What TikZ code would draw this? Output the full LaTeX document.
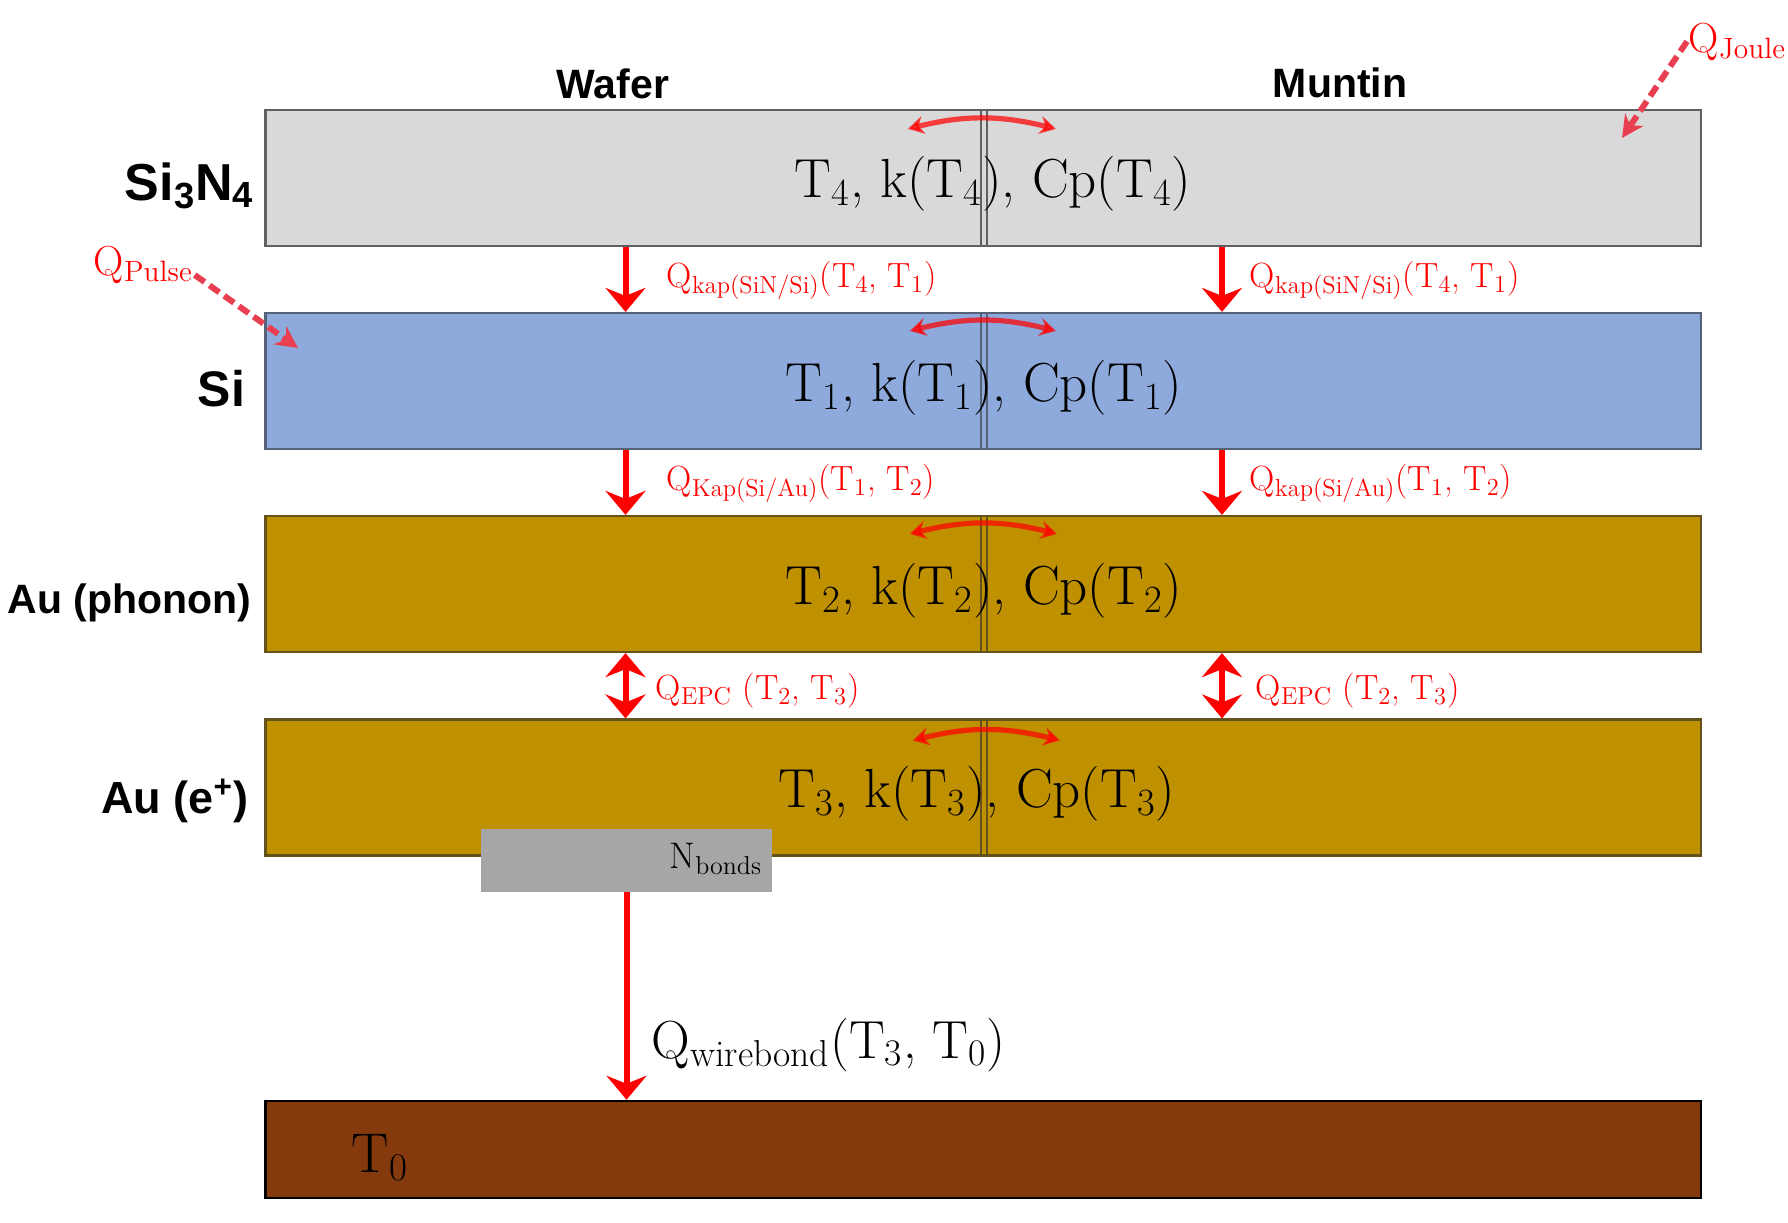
\documentclass[tikz,border=0pt]{standalone}
\usepackage{fontspec}
\setsansfont{Liberation Sans}
\usepackage{tikz}
\usetikzlibrary{arrows.meta}

\definecolor{sinfill}{RGB}{217,217,217}
\definecolor{sinrim}{RGB}{96,96,96}
\definecolor{sifill}{RGB}{142,169,219}
\definecolor{sirim}{RGB}{86,98,120}
\definecolor{aufill}{RGB}{191,144,0}
\definecolor{aurim}{RGB}{100,82,28}
\definecolor{basefill}{RGB}{132,58,12}
\definecolor{bondfill}{RGB}{166,166,166}
\definecolor{pumpred}{RGB}{232,64,80}

\newcommand{\layerstate}[1]{T\textsubscript{#1}, k(T\textsubscript{#1}), Cp(T\textsubscript{#1})}

\tikzset{
  slab/.style={inner sep=0pt, minimum width=360pt, minimum height=68pt, line width=1.1pt},
  flux/.style={red, line width=3pt, -{Stealth[length=12pt,width=20pt,inset=4pt]}},
  fluxboth/.style={flux, {Stealth[length=12pt,width=20pt,inset=4pt]}-{Stealth[length=12pt,width=20pt,inset=4pt]}},
  exch/.style={red, opacity=0.72, line width=2.6pt, {Stealth[length=8pt,width=9pt]}-{Stealth[length=8pt,width=9pt]}},
  inject/.style={pumpred, line width=3pt, dash pattern=on 6pt off 3pt, -{Stealth[length=11pt,width=11pt]}},
  colhead/.style={font=\sffamily\bfseries\fontsize{20.5}{24}\selectfont, anchor=base, inner sep=0.75pt},
  layername/.style={font=\sffamily\bfseries\fontsize{#1}{#1}\selectfont, anchor=base east, inner sep=0.75pt},
  statetext/.style={font=\fontsize{27.5}{32}\selectfont, anchor=base west, inner sep=0.75pt},
  heatlbl/.style={font=\fontsize{17.5}{20}\selectfont, text=red, anchor=base west, inner sep=0.75pt}
}

\begin{document}
\begin{tikzpicture}[x=0.5pt,y=0.5pt,yscale=-1,xscale=1]
\useasboundingbox (0,0) rectangle (1788,1222);

%Shape: Rectangle (Si3N4)
\draw (625.5,178) node (sinw) [slab, draw=sinrim, fill=sinfill] {};
\draw (1341,178) node (sinm) [slab, draw=sinrim, fill=sinfill] {};
\draw [sinrim, line width=1.1pt] (sinw.north east) -- (sinw.south east);
%Shape: Rectangle (Si)
\draw (625.5,381) node (siw) [slab, draw=sirim, fill=sifill] {};
\draw (1341,381) node (sim) [slab, draw=sirim, fill=sifill] {};
\draw [sirim, line width=1.1pt] (siw.north east) -- (siw.south east);
%Shape: Rectangle (Au phonon)
\draw (625.5,584) node (aupw) [slab, draw=aurim, fill=aufill] {};
\draw (1341,584) node (aupm) [slab, draw=aurim, fill=aufill] {};
\draw [aurim, line width=1.1pt] (aupw.north east) -- (aupw.south east);
%Shape: Rectangle (Au electron)
\draw (625.5,787.5) node (auew) [slab, draw=aurim, fill=aufill] {};
\draw (1341,787.5) node (auem) [slab, draw=aurim, fill=aufill] {};
\draw [aurim, line width=1.1pt] (auew.north east) -- (auew.south east);
%Shape: Rectangle (bath)
\draw (983.25,1149.5) node (base) [inner sep=0pt, minimum width=717.75pt, minimum height=48.5pt, draw=black, line width=1.25pt, fill=basefill] {};
%Shape: Rectangle (bonds)
\draw (626.5,860) node (bond) [inner sep=0pt, minimum width=145.5pt, minimum height=31.5pt, fill=bondfill] {};

\coordinate (rcol) at (1222,0);
\coordinate (pulsein) at (298,348);
\coordinate (joulein) at (1622,138);

%Straight Lines
\draw [flux] (sinw) -- (siw);
\draw [flux] (sinm.south -| rcol) -- (sim.north -| rcol);
\draw [flux] (siw) -- (aupw);
\draw [flux] (sim.south -| rcol) -- (aupm.north -| rcol);
\draw [fluxboth] (aupw) -- (auew);
\draw [fluxboth] (aupm.south -| rcol) -- (auem.north -| rcol);
\draw [flux] (bond.south) -- (bond.south |- base.north);

%Curve Lines
\draw [exch] ([shift={(-72,20)}]sinm.north west) to[bend right=14] ([shift={(76,20)}]sinm.north west);
\draw [exch] ([shift={(-70,19)}]sim.north west) to[bend right=14] ([shift={(76,19)}]sim.north west);
\draw [exch] ([shift={(-70,19)}]aupm.north west) to[bend right=14] ([shift={(77,19)}]aupm.north west);
\draw [exch] ([shift={(-67,22)}]auem.north west) to[bend right=14] ([shift={(80,22)}]auem.north west);

% Text Node
\draw (613,98) node (wafer) [colhead] {Wafer};
% Text Node
\draw (1340,97) node (muntin) [colhead] {Muntin};
% Text Node
\draw (256,200) node (nsin) [layername=26] {Si\textsubscript{3}N\textsubscript{4}};
% Text Node
\draw (247,406) node (nsi) [layername=25] {Si};
% Text Node
\draw (253,613) node (naup) [layername=20.5] {Au (phonon)};
% Text Node
\draw (250,813) node (naue) [layername=22.5] {Au (e\textsuperscript{+})};

% Text Node
\draw (793,197) node (st4) [statetext] {\layerstate{4}};
% Text Node
\draw (784,401) node (st1) [statetext] {\layerstate{1}};
% Text Node
\draw (784,604) node (st2) [statetext] {\layerstate{2}};
% Text Node
\draw (777,807.5) node (st3) [statetext] {\layerstate{3}};

% Text Node
\draw (665,287) node (qkw) [heatlbl] {Q\textsubscript{kap(SiN/Si)}(T\textsubscript{4}, T\textsubscript{1})};
% Text Node
\draw (1248,287) node (qkm) [heatlbl] {Q\textsubscript{kap(SiN/Si)}(T\textsubscript{4}, T\textsubscript{1})};
% Text Node
\draw (665,490) node (qaw) [heatlbl] {Q\textsubscript{Kap(Si/Au)}(T\textsubscript{1}, T\textsubscript{2})};
% Text Node
\draw (1248,490) node (qam) [heatlbl] {Q\textsubscript{kap(Si/Au)}(T\textsubscript{1}, T\textsubscript{2})};
% Text Node
\draw (654,699) node (qew) [heatlbl] {Q\textsubscript{EPC} (T\textsubscript{2}, T\textsubscript{3})};
% Text Node
\draw (1254,699) node (qem) [heatlbl] {Q\textsubscript{EPC} (T\textsubscript{2}, T\textsubscript{3})};

% Text Node
\draw (764,868) node (nbonds) [anchor=base east][inner sep=0.75pt] [font=\fontsize{18.5}{22}\selectfont] {N\textsubscript{bonds}};
% Text Node
\draw (650,1058) node (qwire) [anchor=base west][inner sep=0.75pt] [font=\fontsize{26.8}{30}\selectfont] {Q\textsubscript{wirebond}(T\textsubscript{3}, T\textsubscript{0})};
% Text Node
\draw (350,1172) node (tzero) [anchor=base west][inner sep=0.75pt] [font=\fontsize{28}{32}\selectfont] {T\textsubscript{0}};

% Text Node
\draw (92,275) node (qpulse) [anchor=base west][inner sep=0.75pt] [font=\fontsize{21}{24}\selectfont, text=red] {Q\textsubscript{Pulse}};
% Text Node
\draw (1687,52) node (qjoule) [anchor=base west][inner sep=0.75pt] [font=\fontsize{21}{24}\selectfont, text=red] {Q\textsubscript{Joule}};

%Straight Lines (dashed sources)
\draw [inject] (qpulse.base east) -- (pulsein);
\draw [inject] (qjoule.west) -- (joulein);

\end{tikzpicture}
\end{document}
